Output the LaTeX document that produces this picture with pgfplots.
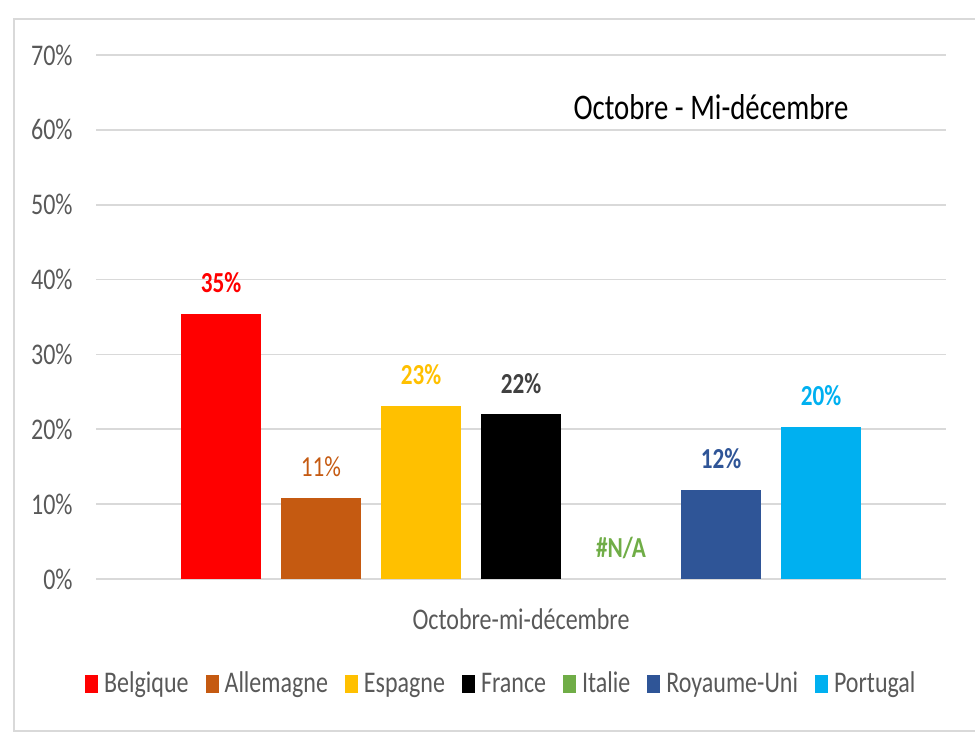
\documentclass[border=0pt]{standalone}
\usepackage{fontspec}
\setmainfont{Carlito}[FakeStretch=0.8]
\usepackage{pgfplots}
\pgfplotsset{compat=1.18}
\definecolor{gridgray}{HTML}{D9D9D9}
\definecolor{txtgray}{HTML}{595959}
\definecolor{cBel}{HTML}{FF0000}
\definecolor{cAll}{HTML}{C55A11}
\definecolor{cEsp}{HTML}{FFC000}
\definecolor{cFra}{HTML}{000000}
\definecolor{cIta}{HTML}{70AD47}
\definecolor{cRU}{HTML}{2F5597}
\definecolor{cPor}{HTML}{00B0F0}
\newcommand{\tk}{\fontsize{15}{18}\selectfont}
\begin{document}
\begin{tikzpicture}
\path[use as bounding box] (0,0) rectangle (487.5pt,367pt);
\draw[gridgray, line width=1pt] (487.5pt,357.5pt) -- (7pt,357.5pt) -- (7pt,1.5pt) -- (487.5pt,1.5pt);
\begin{axis}[
  at={(48pt,77.5pt)}, anchor=south west,
  scale only axis, width=425pt, height=262pt,
  ybar=10pt, bar width=40pt,
  xmin=-1, xmax=1, ymin=0, ymax=70,
  axis line style={draw=none},
  ymajorgrids, grid style={gridgray, line width=0.9pt},
  major tick length=0pt,
  /pgf/number format/assume math mode=true,
  ytick={0,10,20,30,40,50,60,70},
  yticklabels={0\%,10\%,20\%,30\%,40\%,50\%,60\%,70\%},
  yticklabel style={font=\tk, text=txtgray, anchor=east, inner sep=0pt, xshift=-11.5pt},
  xtick={0}, xticklabels={Octobre-mi-décembre},
  xticklabel style={font=\tk, text=txtgray, anchor=center, inner sep=0pt, yshift=-20pt},
  clip=false,
  nodes near coords={\pgfmathprintnumber[fixed,precision=0,assume math mode=true]{\pgfplotspointmeta}\%},
  every node near coord/.append style={anchor=center, yshift=15.5pt, font=\fontsize{14.5}{17}\selectfont\bfseries},
  legend columns=7,
  legend style={at={(0.478,-0.2004)}, anchor=center, draw=none, fill=none,
    font=\tk, text=txtgray, inner sep=0pt,
    /tikz/every odd column/.append style={column sep=1pt},
    /tikz/every even column/.append style={column sep=6.5pt}},
  legend cell align=left,
  legend image code/.code={\fill[#1,draw=none] (0pt,-4.5pt) rectangle (6.5pt,4.5pt);},
]
\addplot[fill=cBel, draw=none, every node near coord/.append style={text=cBel}] coordinates {(0,35.4)};
\addplot[fill=cAll, draw=none, every node near coord/.append style={text=cAll, font=\fontsize{14.5}{17}\selectfont}] coordinates {(0,10.8)};
\addplot[fill=cEsp, draw=none, every node near coord/.append style={text=cEsp}] coordinates {(0,23.1)};
\addplot[fill=cFra, draw=none, every node near coord/.append style={text=black!75}] coordinates {(0,22.0)};
\addplot[fill=none, draw=none, nodes near coords={\#N/A}, every node near coord/.append style={text=cIta},
  legend image code/.code={\fill[cIta] (0pt,-4.5pt) rectangle (6.5pt,4.5pt);}] coordinates {(0,0)};
\addplot[fill=cRU, draw=none, every node near coord/.append style={text=cRU}] coordinates {(0,11.9)};
\addplot[fill=cPor, draw=none, every node near coord/.append style={text=cPor}] coordinates {(0,20.3)};
\legend{Belgique,Allemagne,Espagne,France,Italie,Royaume-Uni,Portugal}
\end{axis}
\node[font=\fontsize{18}{21}\selectfont, text=black] at (355.5pt,313.5pt) {Octobre - Mi-décembre};
\end{tikzpicture}
\end{document}
